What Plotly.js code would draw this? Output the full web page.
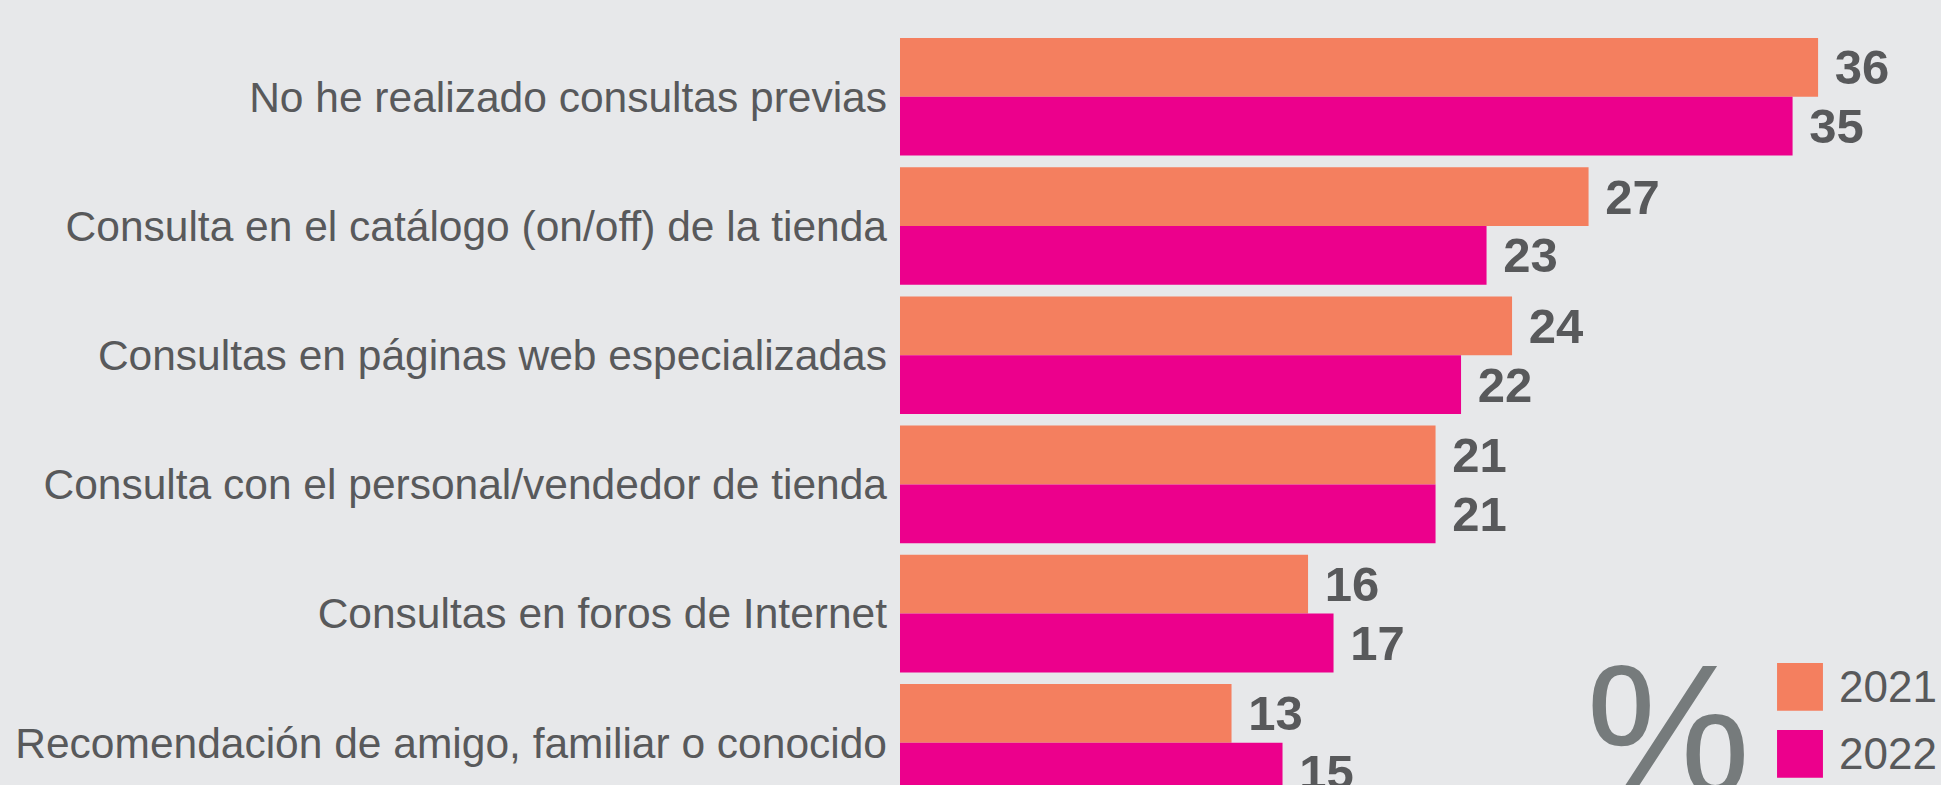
<!DOCTYPE html>
<html>
<head>
<meta charset="utf-8">
<script src="https://cdn.plot.ly/plotly-3.0.1.min.js"></script>
<style>
  html, body { margin: 0; padding: 0; background: #e7e8ea; overflow: hidden; }
  #chart { width: 1941px; height: 785px; }
</style>
</head>
<body>
<div id="chart"></div>
<script>
// ---- data ----
const categories = [
  "No he realizado consultas previas",
  "Consulta en el catálogo (on/off) de la tienda",
  "Consultas en páginas web especializadas",
  "Consulta con el personal/vendedor de tienda",
  "Consultas en foros de Internet",
  "Recomendación de amigo, familiar o conocido"
];
const years = ["2021", "2022"];
const values2021 = [36, 27, 24, 21, 16, 13];
const values2022 = [35, 23, 22, 21, 17, 15];
const unitSymbol = "%";

// ---- styles ----
const colors = ["#F47F5F", "#EC008C"];
const bg = "#e7e8ea";
const textGray = "#58595b";
const fontFamily = "Liberation Sans, Arial, Helvetica, sans-serif";

const series = [values2021, values2022];

const traces = series.map((vals, i) => ({
  type: "bar",
  orientation: "h",
  name: years[i],
  y: categories,
  x: vals,
  marker: { color: colors[i], line: { width: 0 } },
  text: vals.map(v => "\u00a0" + v),
  textposition: "outside",
  constraintext: "none",
  cliponaxis: false,
  textfont: { family: fontFamily, size: 49, color: textGray, weight: "bold" },
  hoverinfo: "skip"
}));

// legend (drawn manually so the swatches can be large)
const legendShapes = [
  { x0: 0.8425, x1: 0.8866, y0: 0.0946, y1: 0.1554 },
  { x0: 0.8425, x1: 0.8866, y0: 0.0093, y1: 0.0701 }
].map((b, i) => ({
  type: "rect", xref: "paper", yref: "paper",
  x0: b.x0, x1: b.x1, y0: b.y0, y1: b.y1,
  fillcolor: colors[i], line: { width: 0 }, layer: "above"
}));

const legendYs = [0.1261, 0.0395];
const annotations = years.map((yr, i) => ({
  xref: "paper", yref: "paper",
  x: 0.9001, y: legendYs[i],
  xanchor: "left", yanchor: "middle",
  text: yr, showarrow: false,
  font: { family: fontFamily, size: 44, color: textGray }
}));
annotations.push({
  xref: "paper", yref: "paper",
  x: 0.7387, y: 0.0701,
  xanchor: "center", yanchor: "middle",
  text: unitSymbol, showarrow: false,
  font: { family: fontFamily, size: 185, color: "#767b7c" }
});

const layout = {
  width: 1941,
  height: 785,
  paper_bgcolor: bg,
  plot_bgcolor: bg,
  showlegend: false,
  barmode: "group",
  bargap: 0.09,
  bargroupgap: 0,
  margin: { l: 900, r: 0, t: 0, b: 0, pad: 0 },
  xaxis: {
    range: [0, 40.82],
    visible: false,
    fixedrange: true
  },
  yaxis: {
    type: "category",
    range: [5.3267, -0.7492],
    autorange: false,
    showgrid: false,
    zeroline: false,
    showline: false,
    ticks: "",
    ticklabelstandoff: 12,
    tickfont: { family: fontFamily, size: 42.5, color: textGray },
    fixedrange: true
  },
  shapes: legendShapes,
  annotations: annotations
};

Plotly.newPlot("chart", traces, layout, { displayModeBar: false, staticPlot: true });
</script>
</body>
</html>
